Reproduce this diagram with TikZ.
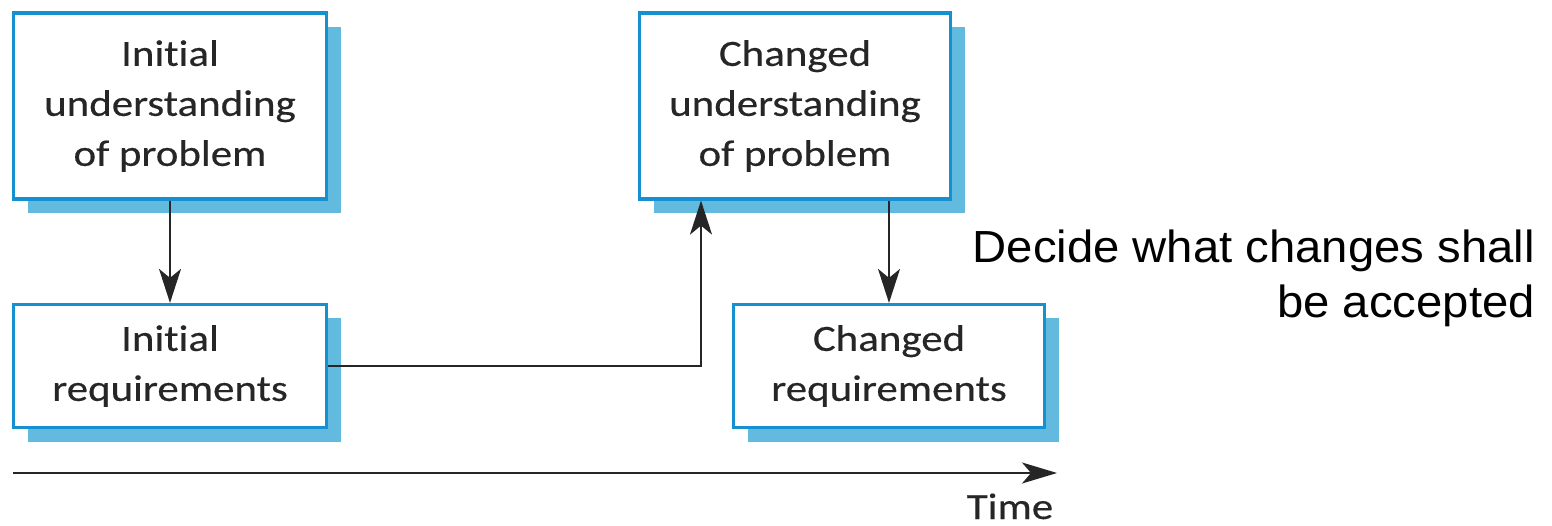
\documentclass[tikz,border=0pt]{standalone}
\usepackage{fontspec}
\setmainfont{Carlito}[FakeStretch=1.16, FakeBold=0.35, Ligatures={NoCommon}]
\newfontfamily\notefont{Liberation Sans}[FakeStretch=1.05]
\usetikzlibrary{shadows,arrows.meta}
\definecolor{boxblue}{HTML}{1590D0}
\definecolor{shadeblue}{HTML}{62BADF}
\definecolor{ink}{HTML}{262626}
\begin{document}
\begin{tikzpicture}[x=1pt,y=-1pt,
  stagebox/.style={draw=boxblue, line width=3.2pt, fill=white, align=center,
    text=ink, inner sep=0pt, font=\fontsize{37}{50}\selectfont,
    drop shadow={shadow xshift=14pt, shadow yshift=-14pt, fill=shadeblue, opacity=1}},
  flow/.style={draw=ink, line width=2pt, -{Stealth[length=34pt, width=22pt, inset=9pt]}},
  timeline/.style={draw=ink, line width=2pt, -{Stealth[length=35pt, width=21pt, inset=9pt]}}
]
\useasboundingbox (0,0) rectangle (1552,526);

% problem understanding (top row) and requirements (bottom row)
\node[stagebox, minimum width=313pt, minimum height=186pt] (iu) at (170,106)
  {Initial\\understanding\\of problem};
\node[stagebox, minimum width=313pt, minimum height=123pt] (ir) at (170,366)
  {Initial\\requirements};
\node[stagebox, minimum width=311pt, minimum height=186pt] (cu) at (795,106)
  {Changed\\understanding\\of problem};
\node[stagebox, minimum width=311pt, minimum height=123pt] (cr) at (889,366)
  {Changed\\requirements};

\draw[flow] (iu.south) -- (ir.north);
\draw[flow] (ir.east) -| ([xshift=-94pt]cu.south);
\draw[flow] (cr.north |- cu.south) -- (cr.north);

% time axis
\coordinate (t0) at (13,473);
\coordinate (t1) at (1057,473);
\draw[timeline] (t0) -- (t1);
\node[font=\fontsize{37}{46}\selectfont, text=ink, anchor=base] (time) at (1010,519) {Time};

\node[font=\notefont\fontsize{45}{55}\selectfont, align=right, anchor=base east,
  inner sep=0pt] (note) at (1535,318) {Decide what changes shall\\be accepted};
\end{tikzpicture}
\end{document}
